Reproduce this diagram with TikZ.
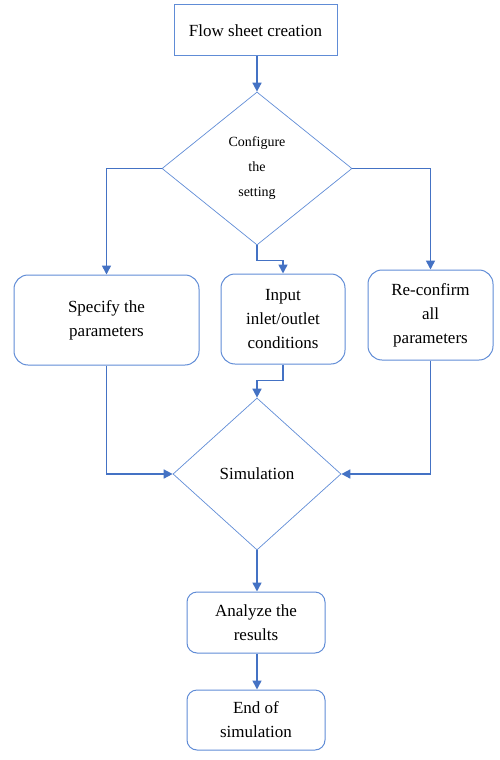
\documentclass[tikz,border=0pt]{standalone}
\usepackage{fontspec}
\setmainfont{Liberation Serif}
\usetikzlibrary{shapes.geometric,arrows.meta}
\definecolor{flowline}{RGB}{68,114,196}
\definecolor{flowedge}{RGB}{96,140,214}
\tikzset{
  stepbox/.style={draw=flowedge, line width=1pt, align=center, inner sep=2pt},
  roundbox/.style={stepbox, rounded corners=14pt},
  decide/.style={diamond, draw=flowedge, line width=0.7pt, align=center, inner sep=0pt},
  arr/.style={->, draw=flowline, line width=1.6pt},
}
\begin{document}
\begin{tikzpicture}[x=1pt, y=-1pt, >={Triangle[width=9pt,length=9pt]},
    font=\fontsize{17}{24}\selectfont]
  \useasboundingbox (0,0) rectangle (500,760);
  % top of the chart
  \node[stepbox, minimum width=163pt, minimum height=51pt] (flow) at (255.5,30.5) {Flow sheet creation};
  \node[decide, minimum width=190pt, minimum height=153pt,
        font=\fontsize{14}{25}\selectfont] (cfg) at (257,168.5) {Configure\\the\\setting};
  % three branches
  \node[roundbox, minimum width=185pt, minimum height=90pt] (spec) at (106.5,320) {Specify the\\parameters};
  \node[roundbox, minimum width=124pt, minimum height=90pt] (input) at (283,319) {Input\\inlet/outlet\\conditions};
  \node[roundbox, minimum width=125pt, minimum height=90pt] (reconf) at (430.5,315) {Re-confirm\\all\\parameters};
  % simulation and after
  \node[decide, minimum width=168pt, minimum height=152pt] (sim) at (257,474) {Simulation};
  \node[roundbox, rounded corners=10pt, minimum width=138pt, minimum height=61pt] (analyze) at (256,622.5) {Analyze the\\results};
  \node[roundbox, rounded corners=10pt, minimum width=138pt, minimum height=60pt] (end) at (256,720) {End of\\simulation};
  % connectors
  \draw[arr] (flow.south -| cfg.north) -- (cfg.north);
  \draw[arr] (cfg.west) -| (spec.north);
  \draw[arr] (cfg.east) -| (reconf.north);
  \draw[arr] (cfg.south) -- ++(0,15) -| (input.north);
  \draw[arr] (spec.south) |- (sim.west);
  \draw[arr] (input.south) -- ++(0,16) -| (sim.north);
  \draw[arr] (reconf.south) |- (sim.east);
  \draw[arr] (sim.south) -- (analyze.north -| sim.south);
  \draw[arr] (analyze.south -| sim.south) -- (end.north -| sim.south);
\end{tikzpicture}
\end{document}
